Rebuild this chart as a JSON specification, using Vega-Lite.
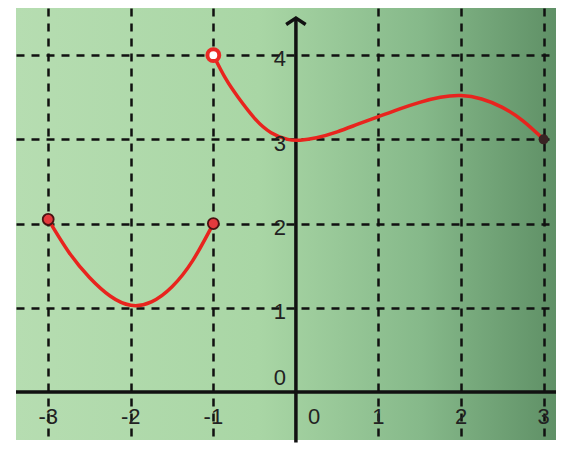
{
  "$schema": "https://vega.github.io/schema/vega-lite/v6.json",
  "width": 540,
  "height": 432,
  "autosize": {"type": "none"},
  "padding": {"left": 16, "top": 8, "right": 18, "bottom": 12},
  "background": "#ffffff",
  "view": {
    "stroke": null,
    "fill": {
      "gradient": "linear",
      "x1": 0, "y1": 0, "x2": 1, "y2": 0,
      "stops": [
        {"offset": 0, "color": "#b6ddb1"},
        {"offset": 0.45, "color": "#a9d6a5"},
        {"offset": 0.75, "color": "#86b98a"},
        {"offset": 1, "color": "#5f9066"}
      ]
    }
  },
  "datasets": {
    "curve": [
      {"piece": "a", "x": -3, "y": 2.05},
      {"piece": "a", "x": -2.75, "y": 1.66},
      {"piece": "a", "x": -2.5, "y": 1.36},
      {"piece": "a", "x": -2.25, "y": 1.14},
      {"piece": "a", "x": -2, "y": 1.03},
      {"piece": "a", "x": -1.75, "y": 1.07},
      {"piece": "a", "x": -1.5, "y": 1.25},
      {"piece": "a", "x": -1.25, "y": 1.56},
      {"piece": "a", "x": -1, "y": 2.0},
      {"piece": "b", "x": -1, "y": 4.0},
      {"piece": "b", "x": -0.85, "y": 3.72},
      {"piece": "b", "x": -0.7, "y": 3.5},
      {"piece": "b", "x": -0.5, "y": 3.25},
      {"piece": "b", "x": -0.3, "y": 3.08},
      {"piece": "b", "x": -0.1, "y": 3.0},
      {"piece": "b", "x": 0.05, "y": 2.99},
      {"piece": "b", "x": 0.25, "y": 3.02},
      {"piece": "b", "x": 0.5, "y": 3.09},
      {"piece": "b", "x": 0.75, "y": 3.18},
      {"piece": "b", "x": 1, "y": 3.27},
      {"piece": "b", "x": 1.25, "y": 3.36},
      {"piece": "b", "x": 1.5, "y": 3.44},
      {"piece": "b", "x": 1.75, "y": 3.5},
      {"piece": "b", "x": 2, "y": 3.52},
      {"piece": "b", "x": 2.25, "y": 3.48},
      {"piece": "b", "x": 2.5, "y": 3.38},
      {"piece": "b", "x": 2.75, "y": 3.22},
      {"piece": "b", "x": 3, "y": 3.0}
    ],
    "closedEnds": [
      {"x": -3, "y": 2.05},
      {"x": -1, "y": 2.0}
    ],
    "openEnd": [{"x": -1, "y": 4.0}],
    "lastPoint": [{"x": 3, "y": 3.0}],
    "xLabels": [
      {"t": "-3", "x": -3, "y": -0.3},
      {"t": "-2", "x": -2, "y": -0.3},
      {"t": "-1", "x": -1, "y": -0.3},
      {"t": "0", "x": 0.22, "y": -0.3},
      {"t": "1", "x": 1, "y": -0.3},
      {"t": "2", "x": 2, "y": -0.3},
      {"t": "3", "x": 3, "y": -0.3}
    ],
    "yLabels": [
      {"t": "0", "x": -0.12, "y": 0.17},
      {"t": "1", "x": -0.12, "y": 0.95},
      {"t": "2", "x": -0.12, "y": 1.95},
      {"t": "3", "x": -0.12, "y": 2.95},
      {"t": "4", "x": -0.12, "y": 3.95}
    ],
    "yAxisLine": [{"x": 0, "y": -0.6, "y2": 4.44}],
    "arrowTip": [{"x": 0, "y": 4.44}]
  },
  "encoding": {
    "x": {
      "field": "x", "type": "quantitative",
      "scale": {"domain": [-3.39, 3.15], "nice": false, "zero": false},
      "axis": {
        "values": [-3, -2, -1, 1, 2, 3],
        "grid": true, "gridColor": "#111111", "gridOpacity": 1,
        "gridWidth": 2.5, "gridDash": [8, 7],
        "domain": false, "ticks": false, "labels": false, "title": null
      }
    },
    "y": {
      "field": "y", "type": "quantitative",
      "scale": {"domain": [-0.57, 4.56], "nice": false, "zero": false},
      "axis": {
        "values": [1, 2, 3, 4],
        "grid": true, "gridColor": "#111111", "gridOpacity": 1,
        "gridWidth": 2.5, "gridDash": [8, 7],
        "domain": false, "ticks": false, "labels": false, "title": null
      }
    }
  },
  "layer": [
    {
      "data": {"values": [{"y": 0}]},
      "mark": {"type": "rule", "color": "#111111", "strokeWidth": 3.5},
      "encoding": {"x": null}
    },
    {
      "data": {"name": "yAxisLine"},
      "mark": {"type": "rule", "color": "#111111", "strokeWidth": 3.5},
      "encoding": {"y2": {"field": "y2"}}
    },
    {
      "data": {"name": "arrowTip"},
      "mark": {
        "type": "point", "shape": "M-1,0.65L0,0L1,0.65",
        "filled": false, "stroke": "#111111", "strokeWidth": 3.5,
        "size": 380, "opacity": 1
      }
    },
    {
      "data": {"name": "curve"},
      "mark": {
        "type": "line", "color": "#e8241e", "strokeWidth": 3.5,
        "interpolate": "natural"
      },
      "encoding": {"detail": {"field": "piece"}}
    },
    {
      "data": {"name": "closedEnds"},
      "mark": {
        "type": "point", "filled": true, "fill": "#e43a3d",
        "stroke": "#4a1212", "strokeWidth": 1.8, "size": 120, "opacity": 1
      }
    },
    {
      "data": {"name": "openEnd"},
      "mark": {
        "type": "point", "filled": true, "fill": "#ffffff",
        "stroke": "#ea2a25", "strokeWidth": 4, "size": 140, "opacity": 1
      }
    },
    {
      "data": {"name": "lastPoint"},
      "mark": {
        "type": "point", "filled": true, "fill": "#3a2424",
        "size": 100, "opacity": 1
      }
    },
    {
      "data": {"name": "xLabels"},
      "mark": {
        "type": "text", "font": "Liberation Sans", "fontSize": 22,
        "color": "#222222", "align": "center", "baseline": "middle"
      },
      "encoding": {"text": {"field": "t"}}
    },
    {
      "data": {"name": "yLabels"},
      "mark": {
        "type": "text", "font": "Liberation Sans", "fontSize": 22,
        "color": "#222222", "align": "right", "baseline": "middle"
      },
      "encoding": {"text": {"field": "t"}}
    }
  ]
}
